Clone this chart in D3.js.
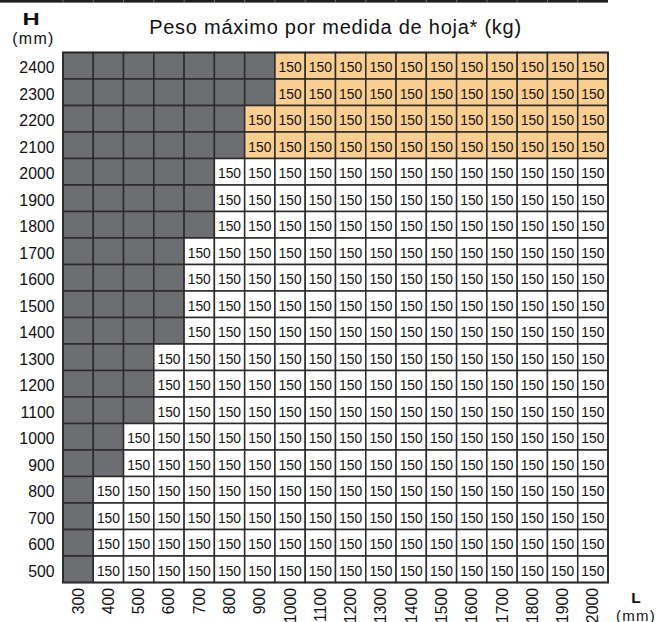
<!DOCTYPE html>
<html>
<head>
<meta charset="utf-8">
<script src="https://cdn.jsdelivr.net/npm/d3@7"></script>
<style>
  html, body { margin: 0; padding: 0; background: #fff; }
  svg { display: block; }
  text { font-family: "Liberation Sans", Arial, sans-serif; }
</style>
</head>
<body>
<svg id="chart" width="660" height="622"></svg>
<script>
// ---- data ----
const widthsL = [300, 400, 500, 600, 700, 800, 900, 1000, 1100, 1200, 1300, 1400, 1500, 1600, 1700, 1800, 1900, 2000];
const heightsH = [2400, 2300, 2200, 2100, 2000, 1900, 1800, 1700, 1600, 1500, 1400, 1300, 1200, 1100, 1000, 900, 800, 700, 600, 500];
// smallest available width (L) for each height row, same order as heightsH
const minWidthL = [1000, 1000, 900, 900, 800, 800, 800, 700, 700, 700, 700, 600, 600, 600, 500, 500, 400, 400, 400, 400];
const highlightedH = [2400, 2300, 2200, 2100];
const maxWeightKg = 150;
const title = "Peso máximo por medida de hoja* (kg)";

// ---- layout ----
const svg = d3.select("#chart");
const x = d3.scaleBand().domain(widthsL).range([63, 608]).padding(0);
const y = d3.scaleBand().domain(heightsH).range([52.5, 582.5]).padding(0);

const COLORS = { gray: "#6d6e71", orange: "#f9ce8e", white: "#ffffff", stroke: "#2b2b2b" };

// top decorative bar
svg.append("rect").attr("x", 0).attr("y", 0).attr("width", x.range()[1]).attr("height", 2.6).attr("fill", "#1e1e1e");
svg.append("g").selectAll("line").data(widthsL).join("line")
  .attr("x1", d => x(d)).attr("x2", d => x(d)).attr("y1", 0).attr("y2", 2.6)
  .attr("stroke", "#8a8a8a").attr("stroke-width", 0.8);

// cells
const cells = [];
heightsH.forEach((h, i) => {
  widthsL.forEach(l => {
    const avail = l >= minWidthL[i];
    cells.push({ h, l, avail, hi: avail && highlightedH.includes(h) });
  });
});

const g = svg.append("g");
g.selectAll("rect.cell").data(cells).join("rect")
  .attr("class", "cell")
  .attr("x", d => x(d.l)).attr("y", d => y(d.h))
  .attr("width", x.bandwidth()).attr("height", y.bandwidth())
  .attr("fill", d => !d.avail ? COLORS.gray : (d.hi ? COLORS.orange : COLORS.white))
  .attr("stroke", COLORS.stroke).attr("stroke-width", 1.5);

g.selectAll("text.val").data(cells.filter(d => d.avail)).join("text")
  .attr("class", "val")
  .attr("x", d => x(d.l) + x.bandwidth() / 2)
  .attr("y", d => y(d.h) + y.bandwidth() / 2 + 6.4)
  .attr("text-anchor", "middle")
  .attr("font-size", "13.8px")
  .attr("fill", "#111")
  .text(maxWeightKg);

// outer border
svg.append("rect")
  .attr("x", x.range()[0]).attr("y", y.range()[0])
  .attr("width", x.range()[1] - x.range()[0]).attr("height", y.range()[1] - y.range()[0])
  .attr("fill", "none").attr("stroke", COLORS.stroke).attr("stroke-width", 1.8);

// y axis labels
svg.append("g").selectAll("text").data(heightsH).join("text")
  .attr("x", 54.5)
  .attr("y", d => y(d) + y.bandwidth() / 2 + 7.4)
  .attr("text-anchor", "end")
  .attr("font-size", "15.8px")
  .attr("fill", "#111")
  .text(d => d);

// x axis labels (rotated)
svg.append("g").selectAll("text").data(widthsL).join("text")
  .attr("transform", d => `translate(${x(d) + x.bandwidth() / 2 + 5.5},588) rotate(-90)`)
  .attr("text-anchor", "end")
  .attr("font-size", "15.8px")
  .attr("fill", "#111")
  .text(d => d);

// title
svg.append("text").attr("x", 335.5).attr("y", 34).attr("text-anchor", "middle")
  .attr("font-size", "20px").attr("letter-spacing", "0.75px").attr("fill", "#111").text(title);

// axis unit labels
svg.append("text").attr("transform", "translate(31,25) scale(1.4,1)").attr("text-anchor", "middle")
  .attr("font-size", "17px").attr("font-weight", "bold").attr("fill", "#111").text("H");
svg.append("text").attr("x", 33.5).attr("y", 43.5).attr("text-anchor", "middle")
  .attr("font-size", "16px").attr("letter-spacing", "1.3px").attr("fill", "#111").text("(mm)");
svg.append("text").attr("x", 636).attr("y", 602.5).attr("text-anchor", "middle")
  .attr("font-size", "15.5px").attr("font-weight", "bold").attr("fill", "#111").text("L");
svg.append("text").attr("x", 636).attr("y", 620.5).attr("text-anchor", "middle")
  .attr("font-size", "15px").attr("letter-spacing", "1.2px").attr("fill", "#111").text("(mm)");
</script>
</body>
</html>
